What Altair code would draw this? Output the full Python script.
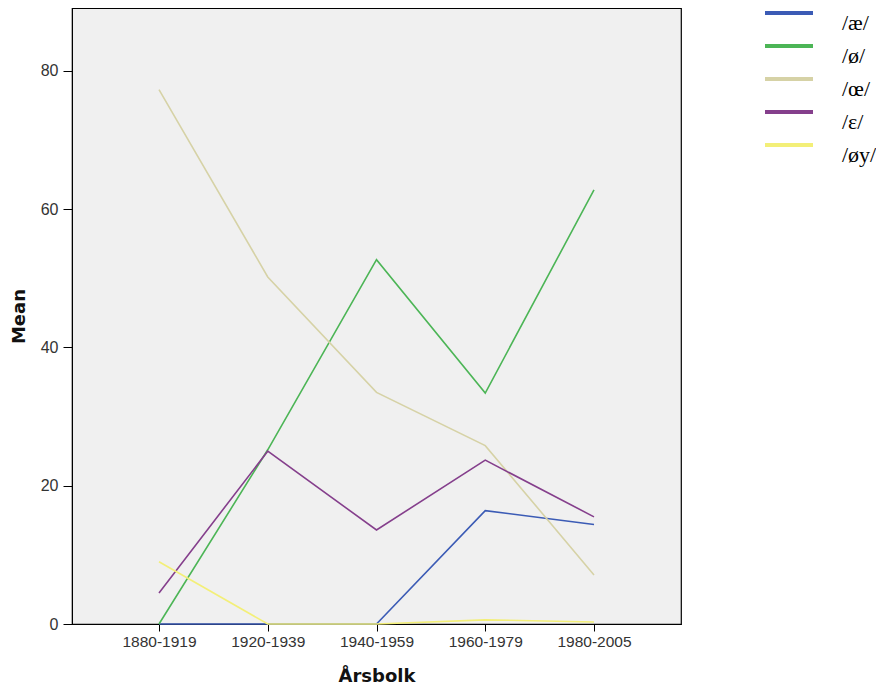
import altair as alt
import pandas as pd

periods = ["1880-1919", "1920-1939", "1940-1959", "1960-1979", "1980-2005"]
series = ["/æ/", "/ø/", "/œ/", "/ɛ/", "/øy/"]
ae = [0.0, 0.0, 0.0, 16.4, 14.4]
oe_slash = [0.0, 25.2, 52.7, 33.4, 62.8]
oe_lig = [77.3, 50.2, 33.5, 25.8, 7.1]
eps = [4.5, 25.0, 13.6, 23.7, 15.5]
oey = [9.0, 0.0, 0.0, 0.6, 0.3]
colors = ["#3b5bb5", "#4cb556", "#d6d2a6", "#853f8c", "#f3ef78"]

rows = []
for name, vals in zip(series, [ae, oe_slash, oe_lig, eps, oey]):
    for p, v in zip(periods, vals):
        rows.append({"period": p, "series": name, "mean": v})
df = pd.DataFrame(rows)

chart = alt.Chart(df).mark_line(strokeWidth=1.6).encode(
    x=alt.X("period:N", sort=periods, title="Årsbolk",
            scale=alt.Scale(type="point", padding=0.8),
            axis=alt.Axis(labelAngle=0, labelFontSize=15.5, labelColor="#333333",
                          labelFont="Liberation Sans", titleFont="DejaVu Sans",
                          titleFontSize=18, titleFontWeight="bold", titleColor="#111111",
                          tickSize=7, tickColor="#000000", domainColor="#000000",
                          labelPadding=3, titlePadding=18, grid=False)),
    y=alt.Y("mean:Q", title="Mean",
            scale=alt.Scale(domain=[0, 89.1], nice=False, zero=True),
            axis=alt.Axis(values=[0, 20, 40, 60, 80], labelFontSize=16, labelColor="#333333",
                          labelFont="Liberation Sans", titleFont="DejaVu Sans",
                          titleFontSize=18, titleFontWeight="bold", titleColor="#111111",
                          tickSize=9, tickColor="#000000", domainColor="#000000",
                          labelPadding=5, titlePadding=12, grid=False)),
    color=alt.Color("series:N", sort=series,
                    scale=alt.Scale(domain=series, range=colors),
                    legend=alt.Legend(title=None, orient="none", legendX=705, legendY=-7,
                                      padding=0,
                                      symbolType="M-2.4,0H2.4", symbolSize=400,
                                      symbolStrokeWidth=4, labelFont="Liberation Serif",
                                      labelFontSize=22, labelColor="#000000",
                                      labelBaseline="top",
                                      labelOffset=41, rowPadding=0)),
).properties(
    width=609, height=616,
    autosize=alt.AutoSizeParams(type="none"),
    padding={"left": 64, "top": 0, "right": 195, "bottom": 63},
).configure_view(
    fill="#f0f0f0", stroke="#000000", strokeWidth=1.2
)

chart.save("out.html", embed_options={"renderer": "svg", "actions": False})
